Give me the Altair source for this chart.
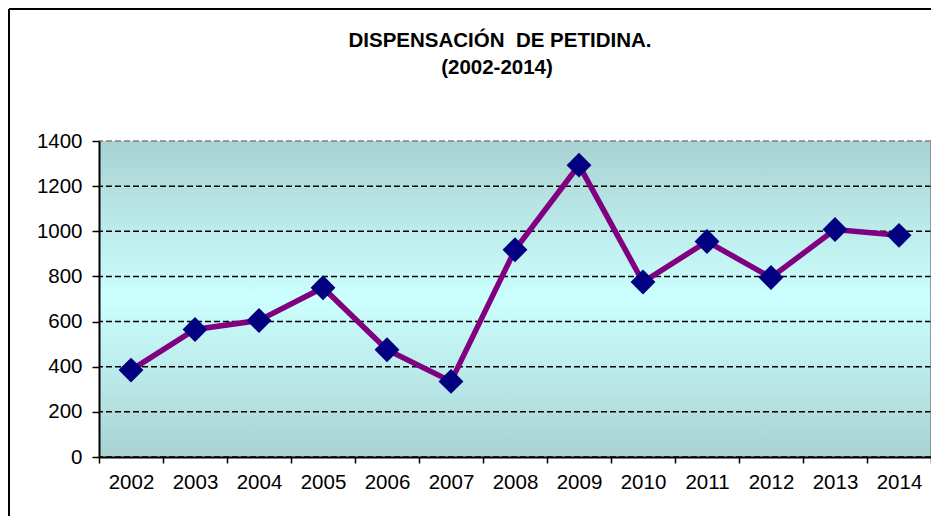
import altair as alt
import pandas as pd

years = ["2002", "2003", "2004", "2005", "2006", "2007", "2008",
         "2009", "2010", "2011", "2012", "2013", "2014"]
values = [385, 565, 605, 750, 475, 335, 918, 1293, 775, 955, 795, 1008, 982]
y_ticks = [0, 200, 400, 600, 800, 1000, 1200, 1400]
title_line1 = "DISPENSACIÓN\u00a0 DE PETIDINA."
title_line2 = "(2002-2014)"

df = pd.DataFrame({"year": years, "value": values})
grid_df = pd.DataFrame({"tick": y_ticks})

W, H = 832, 316
FONT = "Liberation Sans"
one = alt.Data(values=[{}])

x_enc = alt.X(
    "year:O",
    scale=alt.Scale(type="band", paddingInner=0, paddingOuter=0, domain=years),
    axis=alt.Axis(
        title=None, labelAngle=0, tickBand="extent", grid=False,
        domainColor="black", domainWidth=2, tickColor="black", tickWidth=1.5,
        tickSize=6, labelFont=FONT, labelFontSize=20.5, labelColor="black",
        labelPadding=9, zindex=1,
    ),
)
y_enc = alt.Y(
    "value:Q",
    scale=alt.Scale(domain=[0, 1400], nice=False, zero=True),
    axis=alt.Axis(
        values=y_ticks, format="d", title=None, grid=False,
        domainColor="black", domainWidth=2, tickColor="black", tickWidth=1.5,
        tickSize=7, labelFont=FONT, labelFontSize=20.5, labelColor="black",
        labelPadding=10, zindex=1,
    ),
)

gradient = {
    "gradient": "linear", "x1": 0, "y1": 0, "x2": 0, "y2": 1,
    "stops": [
        {"offset": 0, "color": "#A9D2D2"},
        {"offset": 0.5, "color": "#CCFFFF"},
        {"offset": 1, "color": "#A9D2D2"},
    ],
}

bg = alt.Chart(one).mark_rect(fill=gradient).encode(
    x=alt.value(0), x2=alt.value(W), y=alt.value(0), y2=alt.value(H)
)

grid = alt.Chart(grid_df).mark_rule(strokeDash=[6, 3], strokeWidth=1.5).encode(
    y=alt.Y("tick:Q", scale=alt.Scale(domain=[0, 1400], nice=False)),
    color=alt.condition(alt.datum.tick == 1400, alt.value("#808080"), alt.value("black")),
)

right_border = alt.Chart(one).mark_rule(color="#808080", strokeWidth=1.5).encode(
    x=alt.value(W), y=alt.value(0), y2=alt.value(H)
)

line = alt.Chart(df).mark_line(color="#800080", strokeWidth=5.5).encode(x=x_enc, y=y_enc)

points = alt.Chart(df).mark_point(
    shape="diamond", filled=True, size=620, color="#000080", opacity=1
).encode(x="year:O", y="value:Q")

t1 = alt.Chart(one).mark_text(
    font=FONT, fontSize=20.5, fontWeight="bold", align="center", baseline="alphabetic", color="black"
).encode(x=alt.value(401), y=alt.value(-94), text=alt.value(title_line1))

t2 = alt.Chart(one).mark_text(
    font=FONT, fontSize=20.5, fontWeight="bold", align="center", baseline="alphabetic", color="black"
).encode(x=alt.value(398), y=alt.value(-67), text=alt.value(title_line2))

frame_left = alt.Chart(one).mark_rule(color="black", strokeWidth=2).encode(
    x=alt.value(-90), y=alt.value(-132), y2=alt.value(H + 70)
)
frame_top = alt.Chart(one).mark_rule(color="black", strokeWidth=2).encode(
    x=alt.value(-90), x2=alt.value(W + 10), y=alt.value(-132)
)

chart = alt.layer(
    bg, grid, right_border, line, points, t1, t2, frame_left, frame_top
).properties(
    width=W, height=H, autosize="none",
    padding={"left": 91, "top": 133, "right": 0, "bottom": 59},
).configure_view(stroke=None).configure(background="white")

chart.save("out.html", embed_options={"renderer": "svg", "actions": False})
